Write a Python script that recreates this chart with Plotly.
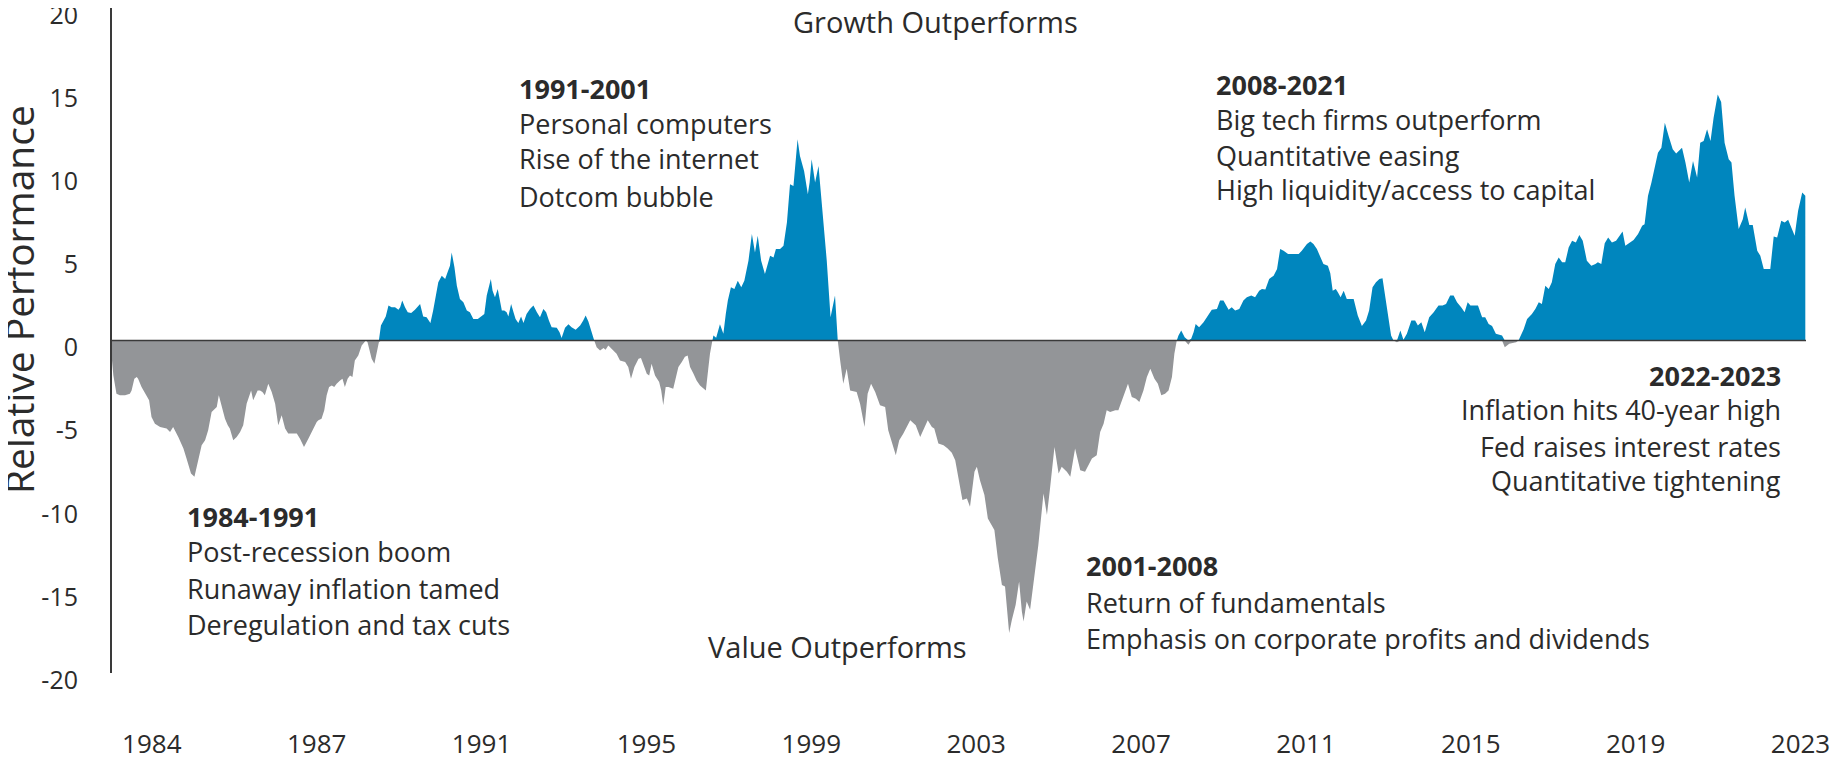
import plotly.graph_objects as go

# ---- data ----
# month index: 0 = first month of the series; tick "1984" sits at index 12, then every 48 months
month_idx = [
    0.0, 0.8, 1.7, 2.7, 4.2, 5.6, 6.1, 6.9, 7.6, 8.0, 9.0, 10.5, 11.2, 11.9, 12.9, 14.4, 16.3, 17.3, 18.2, 19.7,
    21.2, 22.1, 23.4, 24.4, 25.3, 26.5, 27.5, 28.4, 29.4, 30.9, 31.5, 32.3, 33.3, 34.1, 34.7, 35.7, 36.7, 37.7, 38.6, 39.6,
    40.3, 40.9, 41.5, 42.2, 42.8, 43.5, 44.2, 44.9, 45.9, 46.9, 47.9, 48.8, 49.8, 50.8, 51.7, 53.2, 54.2, 55.1, 56.3, 57.6,
    59.0, 60.0, 60.5, 61.4, 62.2, 62.9, 63.6, 64.4, 65.1, 65.8, 66.8, 67.5, 68.2, 69.0, 69.7, 70.4, 71.1, 72.1, 73.1, 74.3,
    74.8, 75.5, 76.0, 76.8, 77.5, 78.1, 78.7, 79.4, 80.1, 80.9, 81.8, 82.8, 83.8, 84.3, 84.9, 85.7, 86.5, 87.5, 88.6, 90.1,
    91.0, 92.0, 93.1, 93.9, 94.6, 95.4, 96.4, 97.4, 98.1, 98.8, 99.3, 100.1, 100.8, 101.7, 102.7, 103.7, 104.6, 105.6, 106.9, 108.0,
    108.8, 109.5, 110.0, 110.7, 111.2, 111.9, 112.7, 113.4, 113.9, 114.6, 115.3, 115.8, 116.6, 117.3, 117.9, 118.7, 119.5, 120.2, 121.1, 122.1,
    123.1, 124.1, 125.0, 126.0, 126.8, 127.6, 128.4, 129.9, 130.7, 131.3, 132.3, 133.3, 134.2, 135.4, 136.7, 137.6, 138.3, 139.1, 140.1, 140.8,
    141.5, 142.5, 143.5, 144.1, 144.9, 145.9, 147.3, 148.3, 149.8, 150.7, 151.5, 152.5, 153.7, 154.4, 155.1, 156.1, 156.8, 157.5, 158.5, 159.7,
    160.3, 160.9, 161.6, 162.4, 163.8, 164.5, 165.3, 166.3, 167.2, 168.0, 168.7, 169.7, 170.6, 171.6, 172.6, 173.3, 174.0, 174.5, 175.2, 175.5,
    176.3, 177.4, 178.4, 179.1, 179.7, 180.6, 181.6, 182.6, 183.6, 184.5, 185.7, 186.7, 187.6, 188.4, 189.4, 190.5, 191.3, 192.0, 193.0, 193.7,
    194.9, 195.9, 196.9, 197.8, 198.8, 200.0, 200.7, 201.9, 203.0, 203.5, 204.1, 205.1, 206.1, 207.5, 208.5, 209.6, 210.9, 211.7, 212.4, 213.3,
    214.3, 215.3, 217.2, 218.2, 219.5, 220.4, 221.4, 222.6, 224.0, 225.5, 226.4, 227.4, 228.6, 229.6, 230.8, 232.8, 234.4, 235.7, 236.6, 237.9,
    239.1, 239.8, 241.0, 242.5, 243.7, 244.9, 245.9, 246.8, 248.0, 249.3, 250.2, 251.5, 252.2, 253.1, 254.4, 255.4, 256.5, 257.3, 258.3, 259.5,
    260.4, 261.6, 262.4, 263.5, 264.5, 265.3, 265.8, 266.7, 267.7, 268.7, 270.1, 271.6, 272.6, 273.5, 274.8, 276.0, 276.9, 278.4, 279.4, 280.8,
    282.3, 283.7, 285.7, 287.1, 288.1, 289.1, 290.0, 291.0, 292.5, 293.4, 294.9, 296.2, 297.3, 298.5, 299.5, 300.7, 301.7, 302.7, 303.9, 304.9,
    305.9, 307.0, 308.0, 309.0, 309.7, 310.4, 310.9, 311.7, 312.7, 313.8, 314.6, 315.3, 315.9, 316.9, 318.2, 319.5, 320.6, 322.1, 323.0, 324.0,
    325.5, 326.4, 327.4, 328.6, 329.8, 330.8, 332.1, 333.2, 334.4, 335.2, 336.2, 337.3, 338.6, 339.6, 340.5, 341.5, 342.8, 343.9, 345.1, 345.9,
    346.8, 348.3, 349.3, 350.2, 351.2, 352.2, 353.1, 354.4, 355.1, 355.8, 356.7, 357.3, 358.1, 359.0, 359.9, 361.9, 363.1, 364.3, 365.5, 366.4,
    367.4, 368.4, 369.4, 370.3, 371.1, 372.1, 372.8, 373.5, 374.5, 375.5, 376.4, 377.4, 378.7, 379.8, 380.6, 381.6, 382.6, 383.9, 385.2, 386.6,
    387.8, 388.8, 390.0, 391.0, 392.0, 393.2, 394.2, 395.1, 395.9, 398.1, 399.3, 400.2, 401.2, 402.2, 403.3, 405.1, 405.9, 407.2, 409.2, 409.9,
    411.4, 412.4, 413.8, 414.8, 415.8, 416.7, 417.7, 418.7, 419.6, 420.6, 421.6, 422.6, 423.5, 424.5, 425.5, 426.6, 427.6, 428.6, 429.8, 431.1,
    432.3, 433.0, 434.0, 435.0, 436.0, 437.1, 438.3, 439.3, 440.2, 441.0, 442.2, 443.4, 444.7, 445.9, 446.6, 447.6, 448.6, 449.5, 450.5, 451.5,
    452.5, 453.6, 454.8, 455.8, 456.5, 457.5, 458.5, 459.6, 460.7, 461.9, 462.8, 463.8, 464.8, 465.8, 466.7, 467.9, 468.9, 469.9, 471.1, 471.9,
    472.8, 474.0, 475.2, 475.9, 477.1, 478.1, 479.4, 480.3, 481.3, 482.6, 483.2, 484.2, 485.2, 486.4, 487.4, 488.4, 489.3, 490.3, 491.3, 492.5,
    493.4,
]

rel_perf = [
    -0.3, -2.1, -3.2, -3.3, -3.3, -3.2, -3.0, -2.3, -2.2, -2.3, -2.8, -3.4, -3.6, -4.6, -5.0, -5.2, -5.3, -5.5, -5.2, -5.8,
    -6.5, -7.1, -8.0, -8.2, -7.3, -6.3, -6.0, -5.4, -4.3, -4.0, -3.3, -4.0, -4.7, -5.1, -5.3, -6.0, -5.8, -5.5, -5.1, -3.8,
    -3.3, -3.0, -3.6, -3.3, -3.0, -3.0, -3.1, -3.3, -2.6, -3.1, -3.8, -5.1, -4.5, -5.3, -5.6, -5.6, -5.6, -5.9, -6.4, -5.9,
    -5.3, -4.9, -4.8, -4.7, -4.2, -3.3, -2.8, -2.7, -2.8, -2.6, -2.4, -2.3, -2.8, -2.3, -2.1, -2.2, -1.2, -0.9, -0.3, 0.0,
    -0.1, -0.6, -1.1, -1.4, -0.8, -0.1, 0.9, 1.2, 1.45, 2.1, 2.0, 2.0, 1.85, 2.0, 2.4, 2.0, 1.7, 1.65, 1.85, 2.2,
    1.45, 1.4, 1.05, 1.8, 2.7, 3.5, 3.9, 3.7, 4.1, 4.5, 5.3, 4.4, 3.3, 2.5, 2.3, 1.8, 1.7, 1.3, 1.3, 1.5,
    1.6, 2.7, 3.1, 3.7, 3.0, 2.6, 3.1, 2.3, 1.8, 1.8, 1.7, 1.45, 2.2, 1.7, 1.3, 1.05, 1.45, 1.05, 1.6, 1.9,
    2.1, 1.7, 1.4, 1.9, 1.7, 1.2, 0.8, 0.77, 0.5, 0.15, 0.77, 0.97, 0.8, 0.65, 0.9, 1.2, 1.5, 1.15, 0.4, 0.0,
    -0.4, -0.6, -0.45, -0.55, -0.3, -0.5, -0.8, -1.2, -1.3, -1.6, -2.3, -1.6, -1.1, -1.05, -1.5, -2.0, -2.1, -1.4, -2.1, -2.5,
    -3.0, -3.9, -2.8, -2.8, -2.9, -2.2, -1.6, -1.3, -0.97, -0.9, -1.6, -2.0, -2.4, -2.7, -2.9, -3.0, -1.7, -0.8, 0.0, 0.3,
    0.16, 0.97, 0.4, 1.6, 2.4, 3.2, 3.1, 3.6, 3.2, 3.6, 4.8, 6.4, 5.3, 6.3, 4.8, 4.0, 4.6, 5.1, 5.0, 5.5,
    5.5, 5.7, 7.1, 9.4, 9.3, 12.1, 11.1, 10.2, 8.8, 9.5, 10.9, 9.5, 10.5, 7.1, 4.8, 1.4, 2.7, 0.0, -1.2, -2.6,
    -1.7, -3.0, -3.1, -3.8, -5.2, -3.2, -2.6, -3.1, -3.9, -4.0, -5.4, -6.1, -6.9, -6.0, -5.6, -4.8, -5.1, -5.8, -5.4, -4.8,
    -5.2, -5.3, -6.2, -6.3, -6.5, -6.75, -7.2, -8.3, -9.6, -9.5, -10.0, -7.9, -7.6, -8.4, -9.3, -10.7, -11.1, -11.4, -13.1, -14.7,
    -14.8, -17.6, -16.8, -15.9, -14.5, -16.3, -16.9, -15.7, -16.2, -14.7, -12.3, -9.2, -10.5, -8.9, -6.4, -8.0, -7.6, -7.9, -8.2, -6.5,
    -7.8, -7.9, -7.1, -6.9, -5.5, -5.0, -4.2, -4.3, -4.2, -4.2, -3.4, -2.6, -3.4, -3.5, -3.7, -3.0, -2.2, -1.7, -2.3, -2.6,
    -3.3, -3.2, -3.0, -2.2, -0.8, 0.0, 0.3, 0.6, 0.2, -0.25, 0.1, 0.5, 1.0, 0.8, 1.1, 1.5, 1.85, 1.9, 2.4, 2.4,
    1.85, 2.0, 1.8, 1.9, 2.4, 2.6, 2.7, 2.6, 3.0, 3.1, 3.07, 3.7, 3.9, 4.3, 5.5, 5.4, 5.2, 5.2, 5.2, 5.2,
    5.4, 5.8, 5.95, 5.8, 5.5, 5.0, 4.6, 4.5, 4.05, 3.0, 3.1, 2.9, 2.6, 3.0, 2.5, 2.5, 1.5, 0.87, 1.2, 1.8,
    3.2, 3.5, 3.7, 3.75, 2.7, 1.2, 0.3, 0.0, -0.1, 0.6, 0.05, 0.4, 1.2, 1.2, 0.9, 1.1, 0.5, 1.4, 1.7, 2.1,
    2.1, 2.2, 2.7, 2.7, 2.3, 2.0, 1.7, 2.3, 2.1, 2.1, 1.4, 1.4, 1.0, 0.87, 0.4, 0.3, -0.4, -0.2, -0.1, 0.0,
    0.67, 1.3, 1.6, 1.9, 2.3, 2.2, 3.3, 3.1, 3.5, 4.6, 5.0, 4.7, 4.7, 5.6, 6.0, 5.9, 6.35, 6.0, 4.8, 4.5,
    4.6, 4.7, 4.6, 5.85, 6.2, 5.9, 6.0, 6.3, 6.55, 5.7, 5.9, 6.05, 6.4, 6.9, 7.0, 8.7, 9.5, 10.3, 11.3, 11.6,
    13.1, 12.3, 11.5, 11.25, 11.4, 11.6, 10.7, 9.5, 10.8, 9.8, 11.9, 12.0, 12.7, 12.0, 13.4, 14.8, 14.35, 11.9, 10.9, 10.7,
    8.7, 6.7, 7.3, 8.0, 6.95, 6.95, 5.4, 5.1, 4.3, 4.3, 4.3, 6.25, 6.2, 7.2, 7.1, 7.26, 6.85, 6.3, 7.8, 8.9,
    8.7,
]

tick_positions = [12, 60, 108, 156, 204, 252, 300, 348, 396, 444, 492]
tick_labels = ["1984", "1987", "1991", "1995", "1999", "2003", "2007", "2011", "2015", "2019", "2023"]
y_ticks = [-20, -15, -10, -5, 0, 5, 10, 15, 20]
y_tick_labels = ["-20", "-15", "-10", "-5", "0", "5", "10", "15", "20"]

growth_part = [max(v, 0.0) for v in rel_perf]
value_part = [min(v, 0.0) for v in rel_perf]

BLUE = "#0086BE"
GREY = "#939598"
TEXT = "#2b2b2b"
FONT = "Open Sans"

# the page body adds an 8px offset, so the figure is sized to fill the rest of the window
OFF = 8
W, H = 1839 - OFF, 757 - OFF
L, R, T, B = 104, 33, 0, 84


def px_x(X):
    return (X - OFF - L) / (W - L - R)


def px_y(Y):
    return (H - B - (Y - OFF)) / (H - T - B)


fig = go.Figure()
fig.add_trace(go.Scatter(x=month_idx, y=value_part, mode="lines", fill="tozeroy",
                         fillcolor=GREY, line=dict(width=0, color=GREY), hoverinfo="skip",
                         showlegend=False))
fig.add_trace(go.Scatter(x=month_idx, y=growth_part, mode="lines", fill="tozeroy",
                         fillcolor=BLUE, line=dict(width=0, color=BLUE), hoverinfo="skip",
                         showlegend=False))

fig.add_shape(type="line", xref="paper", x0=0, x1=1, yref="y", y0=0, y1=0,
              line=dict(color="#3a3a3a", width=1.5), layer="above")

annotations = []


def add_text(text, X, Y, xanchor, size=27, bold=False):
    if bold:
        text = "<b>" + text + "</b>"
    annotations.append(dict(text=text, xref="paper", yref="paper", x=px_x(X), y=px_y(Y),
                            xanchor=xanchor, yanchor="middle", showarrow=False,
                            font=dict(family=FONT, size=size, color=TEXT)))


blocks = [
    ("1984-1991", ["Post-recession boom", "Runaway inflation tamed", "Deregulation and tax cuts"],
     185, [516, 551, 588, 624], "left"),
    ("1991-2001", ["Personal computers", "Rise of the internet", "Dotcom bubble"],
     517, [88, 123, 159, 196], "left"),
    ("2008-2021", ["Big tech firms outperform", "Quantitative easing", "High liquidity/access to capital"],
     1214, [84, 120, 155, 190], "left"),
    ("2001-2008", ["Return of fundamentals", "Emphasis on corporate profits and dividends"],
     1084, [565, 602, 638], "left"),
    ("2022-2023", ["Inflation hits 40-year high", "Fed raises interest rates", "Quantitative tightening"],
     1783, [375, 410, 446, 481], "right"),
]
for head, lines, X, ys, anchor in blocks:
    add_text(head, X, ys[0], anchor, bold=True)
    for line, Y in zip(lines, ys[1:]):
        add_text(line, X, Y, anchor)

add_text("Growth Outperforms", 935, 22, "center", size=29)
add_text("Value Outperforms", 837, 646, "center", size=29)

annotations.append(dict(text="Relative Performance", xref="paper", yref="paper",
                        x=px_x(19), y=px_y(300), xanchor="center", yanchor="middle",
                        textangle=-90, showarrow=False,
                        font=dict(family=FONT, size=39, color=TEXT)))

fig.update_layout(
    width=W, height=H, autosize=False,
    margin=dict(l=L, r=R, t=T, b=B, autoexpand=False),
    paper_bgcolor="white", plot_bgcolor="white",
    font=dict(family=FONT, color=TEXT),
    annotations=annotations,
    xaxis=dict(range=[0.4, 493.6], showgrid=False, zeroline=False, showline=False,
               automargin=False, ticklabeloverflow="allow",
               tickmode="array", tickvals=tick_positions, ticktext=tick_labels,
               ticks="", tickfont=dict(family=FONT, size=26, color=TEXT),
               ticklabelstandoff=53, fixedrange=True),
    yaxis=dict(range=[-20, 20], showgrid=False, zeroline=False, showline=True,
               automargin=False, ticklabeloverflow="allow",
               linecolor="#3a3a3a", linewidth=2,
               tickmode="array", tickvals=y_ticks, ticktext=y_tick_labels,
               ticks="", tickfont=dict(family=FONT, size=25, color=TEXT),
               ticklabelstandoff=27, ticklabelshift=7, fixedrange=True),
)

fig.write_html("out.html")
